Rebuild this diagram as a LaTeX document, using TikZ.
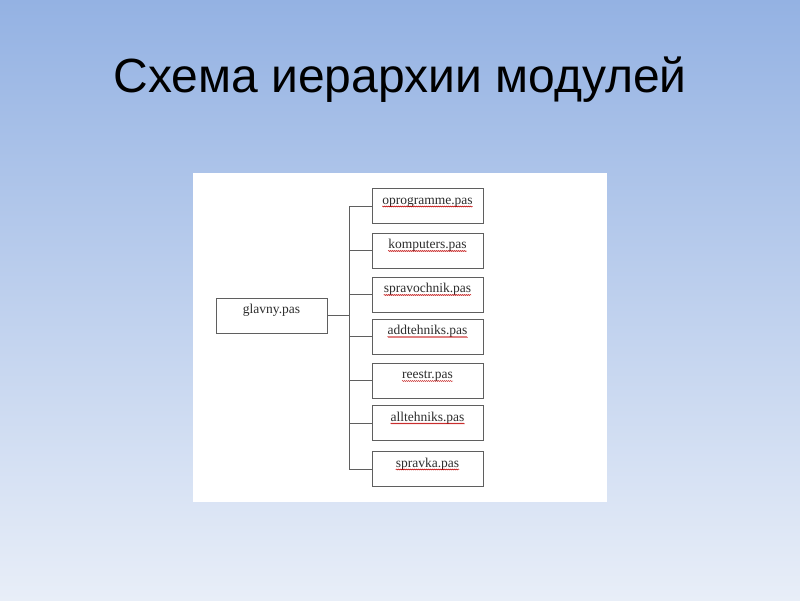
\documentclass[tikz,border=0pt]{standalone}
\usepackage{fontspec}
\setmainfont{Liberation Serif}
\newfontfamily\titlefont{Liberation Sans}
\usetikzlibrary{decorations.pathmorphing,calc}
\definecolor{bgtop}{RGB}{148,178,227}
\definecolor{bgbot}{RGB}{232,238,248}
\definecolor{boxline}{RGB}{95,95,95}
\definecolor{txt}{RGB}{45,45,45}
\tikzset{
  modbox/.style={draw=boxline, line width=0.9pt, minimum width=111pt, minimum height=35pt, inner sep=0pt},
  modtext/.style={font=\fontsize{13.5}{14}\selectfont, text=txt, inner sep=0pt, anchor=base},
  conn/.style={draw=boxline, line width=0.9pt},
  squiggle/.style={draw=red!75!black, line width=0.4pt, decorate, decoration={snake, amplitude=0.5pt, segment length=2pt}},
  titletext/.style={font=\titlefont\fontsize{48}{50}\selectfont, text=black, inner sep=0pt, anchor=base}
}
\begin{document}
\begin{tikzpicture}[x=1pt,y=-1pt]
\shade[top color=bgtop, bottom color=bgbot] (0,0) rectangle (800,600);
\useasboundingbox (0,0) rectangle (800,600);
\fill[white] (193,173) rectangle (607,502);
\node[titletext] (title) at (400,92) {Схема иерархии модулей};

\node[modbox] (g) at (271.5,315.5) {};
\node[modtext] (tg) at ($(g.center)+(0,-2)$) {glavny.pas};

\foreach \i/\y/\name in {1/206/oprogramme.pas, 2/250.5/komputers.pas, 3/294.5/spravochnik.pas, 4/336.5/addtehniks.pas, 5/380.5/reestr.pas, 6/423/alltehniks.pas, 7/469/spravka.pas}{
  \node[modbox] (b\i) at (427.5,\y) {};
  \node[modtext] (t\i) at ($(b\i.center)+(0,-2)$) {\name};
  \draw[squiggle] ($(t\i.base west)+(0,2.5)$) -- ($(t\i.base east)+(0,2.5)$);
}

\coordinate (j) at (349,315.5);
\draw[conn] (g.east) -- (j);
\foreach \i in {1,...,7}{
  \draw[conn] (b\i.west) -| (j);
}
\end{tikzpicture}
\end{document}
